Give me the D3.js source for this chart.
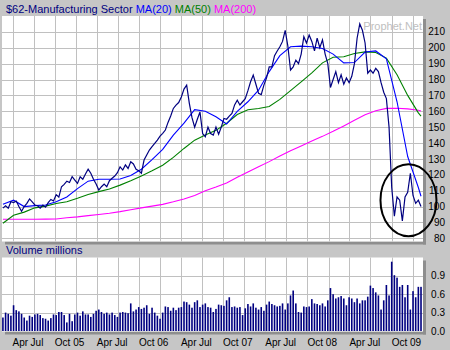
<!DOCTYPE html>
<html><head><meta charset="utf-8">
<script src="https://cdn.jsdelivr.net/npm/d3@7"></script>
<style>
html,body{margin:0;padding:0;background:#c6c6c6;}
svg{display:block;font-family:"Liberation Sans",Arial,sans-serif;}
</style></head><body>
<svg id="chart" width="450" height="350"></svg>
<script>
// Sampling: one observation every ~8 trading days
const startDate = new Date(2005, 1, 18);
const stepDays = 11.55;

const price = [
  99, 100.5, 99, 103, 102.5, 103.5, 100, 97, 100, 102,
  104.8, 103, 101, 100.5, 99, 101, 99.6, 102.5, 104.5, 103.5,
  107.5, 106, 112.5, 114, 116, 115.2, 118.8, 116.7, 114.6, 118.8,
  117.2, 120.5, 123.5, 121, 117.2, 114.2, 110.4, 112.5, 114.2, 112.5,
  116.3, 117.8, 119.2, 121.3, 125, 123, 126.2, 124, 128.2, 126.8,
  123.5, 122.6, 121, 129.3, 132.5, 135.6, 137.7, 139.8, 141.9, 144.4,
  146.1, 148.2, 153, 157, 161.8, 163.9, 165.5, 169, 174, 176.5,
  165, 156, 150, 155, 159.5, 146, 144, 150, 146, 145,
  150, 145.5, 150, 155.5, 155, 157, 158.7, 164, 167, 164,
  166, 168, 173, 178.6, 182.8, 177, 171.3, 170.5, 176.5, 181,
  188, 188, 195, 198, 200.6, 204, 211, 201, 186, 188,
  192.2, 190, 196, 207, 203, 208, 204, 198, 206, 200,
  205, 196, 190, 175, 180, 185, 178, 183, 177, 181,
  178, 182, 190, 206, 215, 211, 203, 184, 186, 184,
  187, 185, 178, 172, 168, 150, 112, 94, 106, 104,
  91, 106, 109, 121, 107, 102, 104, 100
];

const volume = [
  0.22, 0.30, 0.28, 0.25, 0.42, 0.34, 0.32, 0.28, 0.22, 0.17,
  0.25, 0.23, 0.27, 0.28, 0.26, 0.21, 0.20, 0.17, 0.21, 0.27,
  0.26, 0.31, 0.31, 0.26, 0.14, 0.28, 0.16, 0.27, 0.30, 0.25,
  0.32, 0.27, 0.27, 0.23, 0.28, 0.33, 0.35, 0.31, 0.28, 0.30,
  0.27, 0.30, 0.26, 0.23, 0.30, 0.31, 0.30, 0.29, 0.45, 0.32,
  0.35, 0.39, 0.36, 0.38, 0.42, 0.28, 0.38, 0.30, 0.25, 0.20,
  0.30, 0.40, 0.39, 0.33, 0.38, 0.34, 0.38, 0.39, 0.48, 0.47,
  0.43, 0.38, 0.47, 0.50, 0.39, 0.43, 0.45, 0.39, 0.38, 0.31,
  0.36, 0.43, 0.42, 0.41, 0.50, 0.55, 0.39, 0.40, 0.38, 0.39,
  0.26, 0.37, 0.44, 0.40, 0.45, 0.38, 0.35, 0.39, 0.33, 0.43,
  0.48, 0.44, 0.42, 0.40, 0.41, 0.45, 0.35, 0.45, 0.58, 0.66,
  0.45, 0.31, 0.30, 0.40, 0.39, 0.40, 0.52, 0.45, 0.44, 0.42,
  0.45, 0.40, 0.50, 0.70, 0.60, 0.53, 0.55, 0.57, 0.53, 0.42,
  0.55, 0.53, 0.47, 0.53, 0.45, 0.50, 0.50, 0.56, 0.74, 0.70,
  0.63, 0.58, 0.35, 0.50, 0.75, 0.58, 1.13, 0.91, 0.87, 0.72,
  0.75, 0.55, 0.75, 0.35, 0.65, 0.55, 0.72, 0.72
];

// Moving averages, read every 4th observation plus the last one
const ma20 = [
  101.5, 104, 100, 100.6, 101, 103, 106, 111.3, 116, 117.2,
  117.2, 117.4, 119.5, 123.5, 129.6, 136, 145, 152.5, 161, 160,
  156.5, 152, 160, 166, 173.3, 185, 195, 200.6, 201, 200.6,
  199.5, 196, 190.5, 190.7, 197.3, 198, 193, 166, 131.5, 112, 106.5
];
const ma50 = [
  89.5, 94.5, 96.5, 99.2, 100.3, 101.9, 103, 105.2, 107.6, 109.4,
  111, 113.5, 116.2, 119.3, 122.5, 126, 131, 136.6, 141.8, 145,
  148, 152.5, 158, 161, 161.8, 163, 167.5, 173, 178.5, 184.2,
  190.5, 194, 194.3, 196.4, 197.4, 197, 193.5, 183, 170, 159, 157
];
const ma200 = [
  92, 92, 92, 92, 92.1, 92.2, 93, 93.5, 94.3, 95,
  95.8, 96.8, 98, 99.2, 100.3, 101.4, 103, 104.8, 107, 110,
  112.3, 114.8, 118.5, 121.8, 125, 128.3, 131.8, 135.2, 138.2, 141.3,
  144.2, 147.4, 150.8, 154.3, 157.8, 160.3, 161.8, 161.9, 161.5, 160.6, 160.2
];

const priceTicks = [80, 90, 100, 110, 120, 130, 140, 150, 160, 170, 180, 190, 200, 210];
const volumeTicks = [0, 0.3, 0.6, 0.9];
const volumeTickLabels = ["0.0", "0.3", "0.6", "0.9"];
const dateLabels = [
  ["2005-04-01", "Apr"], ["2005-07-01", "Jul"], ["2005-10-01", "Oct 05"],
  ["2006-04-01", "Apr"], ["2006-07-01", "Jul"], ["2006-10-01", "Oct 06"],
  ["2007-04-01", "Apr"], ["2007-07-01", "Jul"], ["2007-10-01", "Oct 07"],
  ["2008-04-01", "Apr"], ["2008-07-01", "Jul"], ["2008-10-01", "Oct 08"],
  ["2009-04-01", "Apr"], ["2009-07-01", "Jul"], ["2009-10-01", "Oct 09"]
];
const titleParts = [
  ["$62-Manufacturing Sector", "#000080"],
  [" MA(20)", "#0000ff"],
  [" MA(50)", "#008000"],
  [" MA(200)", "#ff00ff"]
];

const dateAt = i => new Date(startDate.getTime() + i * stepDays * 864e5);
const maIndex = d3.range(0, price.length - 1, 4).concat(price.length - 1);
const parse = d3.timeParse("%Y-%m-%d");

const svg = d3.select("#chart");
const L = 2, R = 423;
const mainTop = 16, mainBottom = 241.5;
const volTop = 257.5, volBottom = 331.5;
const shadow = "#8e8e8e", grid = "#c0c0c0";

const x = d3.scaleTime()
  .domain([new Date(2005, 1, 14), new Date(2010, 1, 14)])
  .range([L, R]);
const yP = d3.scaleLinear().domain([78, 220]).range([mainBottom, mainTop]);
const yV = d3.scaleLinear().domain([0, 1.2]).range([331, 257.4]);

svg.append("rect").attr("width", 450).attr("height", 350).attr("fill", "#c6c6c6");

// Title
const title = svg.append("text").attr("x", 6).attr("y", 12.5).attr("font-size", 11);
titleParts.forEach(([t, c]) => title.append("tspan").attr("fill", c).text(t));

function panel(top, bottom) {
  svg.append("rect").attr("x", R).attr("y", top + 3).attr("width", 3)
    .attr("height", bottom - top).attr("fill", shadow);
  svg.append("rect").attr("x", L + 3).attr("y", bottom).attr("width", R - L)
    .attr("height", 3).attr("fill", shadow);
  svg.append("rect").attr("x", L).attr("y", top).attr("width", R - L)
    .attr("height", bottom - top).attr("fill", "#fff");
  const g = svg.append("g");
  g.selectAll("line.v").data(x.ticks(d3.timeMonth.every(3))).join("line")
    .attr("x1", d => Math.round(x(d)) + 0.5).attr("x2", d => Math.round(x(d)) + 0.5)
    .attr("y1", top).attr("y2", bottom)
    .attr("stroke", grid);
  return g;
}

// Price panel
const gp = panel(mainTop, mainBottom);
gp.selectAll("line.h").data(priceTicks).join("line")
  .attr("x1", L).attr("x2", R)
  .attr("y1", d => Math.round(yP(d)) + 0.5).attr("y2", d => Math.round(yP(d)) + 0.5)
  .attr("stroke", grid);

svg.append("text").attr("x", R - 1).attr("y", 30).attr("text-anchor", "end")
  .attr("font-size", 11).attr("fill", "#c0c0c0").text("Prophet.Net");

svg.append("clipPath").attr("id", "pclip").append("rect")
  .attr("x", L).attr("y", mainTop).attr("width", R - L).attr("height", mainBottom - mainTop);

const lines = svg.append("g").attr("clip-path", "url(#pclip)");
const maLine = d3.line().x((d, k) => x(dateAt(maIndex[k]))).y(d => yP(d));
[[ma200, "#ff00ff"], [ma50, "#008000"], [ma20, "#0000ff"]].forEach(([s, c]) => {
  lines.append("path").attr("d", maLine(s)).attr("fill", "none")
    .attr("stroke", c).attr("stroke-width", 1.1);
});
lines.append("path")
  .attr("d", d3.line().x((d, i) => x(dateAt(i))).y(d => yP(d))(price))
  .attr("fill", "none").attr("stroke", "#000080").attr("stroke-width", 1.2);

// Price axis labels
svg.selectAll("text.pt").data(priceTicks).join("text")
  .attr("x", 445).attr("y", d => yP(d)).attr("dy", "0.36em")
  .attr("text-anchor", "end").attr("font-size", 10).attr("fill", "#000")
  .text(d => d);

// Volume header
svg.append("text").attr("x", 6).attr("y", 254).attr("font-size", 11)
  .attr("fill", "#000080").text("Volume  millions");

// Volume panel
const gv = panel(volTop, volBottom);
gv.selectAll("line.h").data(volumeTicks.slice(1)).join("line")
  .attr("x1", L).attr("x2", R)
  .attr("y1", d => Math.round(yV(d)) + 0.5).attr("y2", d => Math.round(yV(d)) + 0.5)
  .attr("stroke", grid);
svg.append("g").selectAll("rect").data(volume).join("rect")
  .attr("x", (d, i) => x(dateAt(i)) - 0.8).attr("width", 1.6)
  .attr("y", d => yV(d)).attr("height", d => yV(0) - yV(d))
  .attr("fill", "#000080");
svg.selectAll("text.vt").data(volumeTicks).join("text")
  .attr("x", 445).attr("y", d => yV(d)).attr("dy", "0.36em")
  .attr("text-anchor", "end").attr("font-size", 10).attr("fill", "#000")
  .text((d, i) => volumeTickLabels[i]);

// Date labels: month names start at their gridline, Jul sits just left of it
svg.selectAll("text.dl").data(dateLabels).join("text")
  .attr("y", 346)
  .attr("font-size", 10).attr("fill", "#000")
  .text(d => d[1])
  .each(function (d) {
    const gx = x(parse(d[0]));
    const w = this.getComputedTextLength();
    let sx = d[1] === "Jul" ? gx - 3 : gx;
    if (sx + w > R) sx = R - w;
    d3.select(this).attr("x", sx);
  });

// Highlight ring around the late lows
const ring = { date: "2009-12-13", value: 104 };
svg.append("ellipse")
  .attr("cx", x(parse(ring.date))).attr("cy", yP(ring.value))
  .attr("rx", 28).attr("ry", 36)
  .attr("fill", "none").attr("stroke", "#000").attr("stroke-width", 2);
</script>
</body></html>
